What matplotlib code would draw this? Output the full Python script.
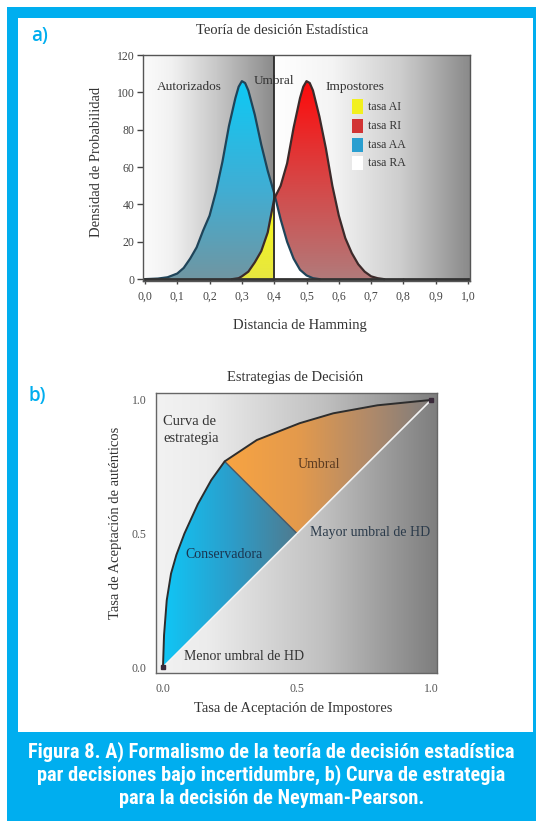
import numpy as np
import matplotlib
matplotlib.use('Agg')
import matplotlib.pyplot as plt
from matplotlib.patches import Rectangle, Polygon
from matplotlib.colors import LinearSegmentedColormap
from matplotlib import font_manager

# ---------------- data: panel a ----------------
auth_x = [0.00, 0.04, 0.07, 0.10, 0.12, 0.14, 0.16, 0.18, 0.20, 0.22, 0.24, 0.26, 0.28, 0.29,
          0.30, 0.31, 0.32, 0.34, 0.36, 0.38, 0.40, 0.42, 0.44, 0.46, 0.48, 0.50, 0.52, 0.54]
auth_y = [0, 0.3, 1, 3, 6, 11, 17, 26, 34, 47, 63, 82, 97, 103,
          106, 105, 101, 88, 72, 58, 46, 32, 20, 11, 5, 2, 0.5, 0]
imp_x = [0.27, 0.29, 0.30, 0.32, 0.34, 0.36, 0.38, 0.40, 0.42, 0.44, 0.46, 0.48, 0.49, 0.50,
         0.51, 0.52, 0.54, 0.56, 0.58, 0.60, 0.62, 0.64, 0.66, 0.68, 0.70, 0.72, 0.74]
imp_y = [0, 0.5, 1.5, 4, 9, 15, 25, 43, 50, 62, 81, 97, 103, 106,
         105, 101, 87, 70, 50, 34, 22, 14, 8, 4, 1.5, 0.5, 0]
threshold = 0.4
a_xticks = [0.0, 0.1, 0.2, 0.3, 0.4, 0.5, 0.6, 0.7, 0.8, 0.9, 1.0]
a_xticklabels = ["0,0", "0,1", "0,2", "0,3", "0,4", "0,5", "0,6", "0,7", "0,8", "0,9", "1,0"]
a_yticks = [0, 20, 40, 60, 80, 100, 120]
legend_labels = ["tasa AI", "tasa RI", "tasa AA", "tasa RA"]
legend_colors = ["#f2f01e", "#d23434", "#2a9fd0", "#ffffff"]

# ---------------- data: panel b ----------------
roc_fpr = [0.0, 0.004, 0.014, 0.03, 0.05, 0.08, 0.13, 0.18, 0.23, 0.35, 0.51, 0.635, 0.80, 1.0]
roc_tpr = [0.0, 0.12, 0.25, 0.35, 0.42, 0.50, 0.61, 0.70, 0.77, 0.85, 0.913, 0.95, 0.98, 1.0]
split_curve = (0.23, 0.77)
split_diag = (0.5, 0.5)
b_ticks = [0.0, 0.5, 1.0]
b_ticklabels = ["0.0", "0.5", "1.0"]

caption_lines = ["Figura 8. A) Formalismo de la teoría de decisión estadística",
                 "par decisiones bajo incertidumbre, b) Curva de estrategia",
                 "para la decisión de Neyman-Pearson."]

W, H = 536, 821
FRAME = '#00aeef'
SERIF = ['Liberation Serif', 'DejaVu Serif']

# pick a condensed bold sans for the caption if one is installed
_fonts = font_manager.fontManager.ttflist
cap_family = None
cap_stretch = 'normal'
for cand in ['Liberation Sans Narrow', 'Arial Narrow', 'Roboto Condensed', 'Open Sans Condensed',
             'Noto Sans Condensed', 'Noto Sans Display Condensed']:
    if any(f.name == cand for f in _fonts):
        cap_family = cand
        break
if cap_family is None:
    for fam in ['DejaVu Sans', 'Noto Sans', 'Open Sans', 'Roboto']:
        if any(f.name == fam and str(f.stretch) in ('condensed', 'semi-condensed', '87.5', '75')
               for f in _fonts):
            cap_family = fam
            cap_stretch = 'condensed'
            break
if cap_family is None:
    for f in _fonts:
        if ('Condensed' in f.name or 'Narrow' in f.name):
            cap_family = f.name
            break
if cap_family is None:
    cap_family = 'Liberation Sans'

fig = plt.figure(figsize=(W / 100, H / 100), dpi=100)
fig.patch.set_facecolor('white')


def fx(px):
    return px / W


def fy(py):
    return 1 - py / H


# frame
fig.add_artist(Rectangle((fx(7), 0), fx(W - 7), 1 - 7 / H, transform=fig.transFigure,
                         facecolor=FRAME, edgecolor='none', zorder=0))
fig.add_artist(Rectangle((fx(18), fy(732)), fx(515), 714 / H, transform=fig.transFigure,
                         facecolor='white', edgecolor='none', zorder=0))


def cmap_from(stops):
    return LinearSegmentedColormap.from_list('c', stops)


def grad_image(ax, extent, stops, direction, zorder, clip=None):
    if direction == 'h':
        arr = np.linspace(0, 1, 256).reshape(1, -1)
    else:
        arr = np.linspace(0, 1, 256).reshape(-1, 1)
    im = ax.imshow(arr, cmap=cmap_from(stops), extent=extent, origin='lower',
                   aspect='auto', zorder=zorder, interpolation='bilinear')
    if clip is not None:
        im.set_clip_path(clip)
    return im


def poly(ax, verts):
    p = Polygon(verts, closed=True, facecolor='none', edgecolor='none')
    ax.add_patch(p)
    return p


# ================= panel a =================
axa = fig.add_axes([fx(143), fy(281), fx(327), 226 / H])
xa0, xa1, ya0, ya1 = -0.006, 1.006, -1.0, 120.0

grad_image(axa, [xa0, threshold, ya0, ya1],
           [(0, '#fbfbfb'), (0.22, '#f1f1f1'), (0.55, '#c9c9c9'), (1, '#8a8a8a')], 'h', 0)
grad_image(axa, [threshold, xa1, ya0, ya1],
           [(0, '#ffffff'), (0.3, '#f4f4f4'), (0.65, '#cdcdcd'), (1, '#8a8a8a')], 'h', 0)

ax_arr = np.array(auth_x)
ay_arr = np.array(auth_y)
ix_arr = np.array(imp_x)
iy_arr = np.array(imp_y)

ml = ax_arr <= threshold
mr = ax_arr >= threshold
il = ix_arr <= threshold
ir = ix_arr >= threshold

# blue (AA)
p = poly(axa, list(zip(ax_arr[ml], ay_arr[ml])) + [(threshold, 0), (ax_arr[ml][0], 0)])
grad_image(axa, [0, threshold, 0, 108],
           [(0, '#7096a2'), (0.45, '#40aed4'), (1, '#0ccaf6')], 'v', 2, p)
# red (RI)
p = poly(axa, list(zip(ix_arr[ir], iy_arr[ir])) + [(ix_arr[ir][-1], 0), (threshold, 0)])
grad_image(axa, [threshold, 0.75, 0, 108],
           [(0, '#b27a7a'), (0.5, '#d84444'), (1, '#ff0808')], 'v', 3, p)
# yellow (AI)
p = poly(axa, list(zip(ix_arr[il], iy_arr[il])) + [(threshold, 0), (ix_arr[il][0], 0)])
grad_image(axa, [0.25, threshold, 0, 50],
           [(0, '#e6e640'), (1, '#ffff10')], 'v', 4, p)
# white (RA)
axa.fill_between(ax_arr[mr], ay_arr[mr], 0, color='white', zorder=5, lw=0)

axa.plot(auth_x, auth_y, color='#1f4459', lw=1.6, zorder=6, solid_joinstyle='round')
axa.plot(imp_x, imp_y, color='#3c2a2a', lw=1.6, zorder=6, solid_joinstyle='round')
axa.axvline(threshold, color='#2a2a2a', lw=1.3, zorder=7)
axa.axhline(0, color='#333333', lw=2.0, zorder=7)

# legend (manual)
leg_y = [92.4, 82.0, 71.9, 62.1]
for lab, col, yy in zip(legend_labels, legend_colors, leg_y):
    axa.add_patch(Rectangle((0.64, yy - 3.8), 0.034, 7.6, facecolor=col,
                            edgecolor='none', zorder=8))
    axa.text(0.69, yy, lab, fontsize=8.5, family=SERIF, va='center', ha='left',
             color='#333333', zorder=8)

axa.text(0.136, 103, "Autorizados", fontsize=9.5, family=SERIF, ha='center', va='center',
         color='#333333', zorder=8)
axa.text(0.40, 106, "Umbral", fontsize=9.5, family=SERIF, ha='center', va='center',
         color='#333333', zorder=8)
axa.text(0.65, 103, "Impostores", fontsize=9.5, family=SERIF, ha='center', va='center',
         color='#333333', zorder=8)

axa.set_xlim(xa0, xa1)
axa.set_ylim(ya0, ya1)
axa.set_xticks(a_xticks)
axa.set_xticklabels(a_xticklabels, family=SERIF, fontsize=8.5, color='#444444')
axa.set_yticks(a_yticks)
axa.set_yticklabels([str(v) for v in a_yticks], family=SERIF, fontsize=8.5, color='#444444')
axa.tick_params(axis='y', direction='out', length=4, width=1, color='#444444', pad=2)
axa.tick_params(axis='x', direction='inout', length=4, width=1, color='#444444', pad=5)
for s in axa.spines.values():
    s.set_color('#555555')
    s.set_linewidth(1.0)
    s.set_zorder(9)

fig.text(fx(282), fy(30), "Teoría de desición Estadística", family=SERIF, fontsize=10.5,
         ha='center', va='center', color='#333333')
fig.text(fx(300), fy(325), "Distancia de Hamming", family=SERIF, fontsize=10.5,
         ha='center', va='center', color='#333333')
fig.text(fx(97), fy(162), "Densidad de Probabilidad", family=SERIF, fontsize=10.5,
         ha='center', va='center', rotation=90, color='#333333')

# ================= panel b =================
axb = fig.add_axes([fx(156), fy(673), fx(281), 280 / H])
xb0, xb1, yb0, yb1 = -0.026, 1.022, -0.022, 1.026

grad_image(axb, [xb0, xb1, yb0, yb1],
           [(0, '#f2f2f2'), (0.18, '#ececec'), (0.6, '#c0c0c0'), (1, '#7e7e7e')], 'h', 0)

fpr = np.array(roc_fpr)
tpr = np.array(roc_tpr)
k = int(np.argmin(np.abs(fpr - split_curve[0])))

blue_verts = list(zip(fpr[:k + 1], tpr[:k + 1])) + [split_diag, (0.0, 0.0)]
p = poly(axb, blue_verts)
grad_image(axb, [0, split_diag[0], 0, 1],
           [(0, '#10c6f6'), (0.5, '#2b9ecb'), (1, '#507a8e')], 'h', 2, p)

orange_verts = list(zip(fpr[k:], tpr[k:])) + [split_diag]
p = poly(axb, orange_verts)
grad_image(axb, [split_curve[0], 1.0, 0, 1],
           [(0, '#f8a442'), (0.35, '#e49a4c'), (0.7, '#b08a6a'), (1, '#7e7c7c')], 'h', 2, p)

axb.plot([split_curve[0], split_diag[0]], [split_curve[1], split_diag[1]],
         color='#44586a', lw=1.0, zorder=3)
axb.plot([0, 1], [0, 1], color='#f4f4f4', lw=1.2, zorder=3)
axb.plot(roc_fpr, roc_tpr, color='#2d2d2d', lw=1.4, zorder=4, solid_joinstyle='round')
axb.plot([0, 1], [0, 1], ls='none', marker='s', ms=3.5, color='#3a2a3a', zorder=5)

axb.text(0.0, 0.92, "Curva de", family=SERIF, fontsize=10.5, ha='left', va='center',
         color='#333333', zorder=6)
axb.text(0.0, 0.855, "estrategia", family=SERIF, fontsize=10.5, ha='left', va='center',
         color='#333333', zorder=6)
axb.text(0.58, 0.757, "Umbral", family=SERIF, fontsize=10, ha='center', va='center',
         color='#5a3a20', zorder=6)
axb.text(0.55, 0.505, "Mayor umbral de HD", family=SERIF, fontsize=10, ha='left', va='center',
         color='#2a3a4a', zorder=6)
axb.text(0.226, 0.42, "Conservadora", family=SERIF, fontsize=10, ha='center', va='center',
         color='#1a3550', zorder=6)
axb.text(0.08, 0.04, "Menor umbral de HD", family=SERIF, fontsize=10, ha='left', va='center',
         color='#333333', zorder=6)

axb.set_xlim(xb0, xb1)
axb.set_ylim(yb0, yb1)
axb.set_xticks(b_ticks)
axb.set_xticklabels(b_ticklabels, family=SERIF, fontsize=8.5, color='#555555')
axb.set_yticks(b_ticks)
axb.set_yticklabels(b_ticklabels, family=SERIF, fontsize=8.5, color='#555555')
axb.tick_params(length=0, pad=7)
for s in axb.spines.values():
    s.set_color('#666666')
    s.set_linewidth(1.0)
    s.set_zorder(9)

fig.text(fx(295), fy(377), "Estrategias de Decisión", family=SERIF, fontsize=10.5,
         ha='center', va='center', color='#333333')
fig.text(fx(293), fy(708), "Tasa de Aceptación de Impostores", family=SERIF, fontsize=10.5,
         ha='center', va='center', color='#333333')
fig.text(fx(115), fy(523), "Tasa de Aceptación de auténticos", family=SERIF, fontsize=10.5,
         ha='center', va='center', rotation=90, color='#333333')

# panel letters
fig.text(fx(31), fy(36), "a)", fontsize=13.5, color=FRAME, family=['Open Sans', 'DejaVu Sans'],
         fontweight='semibold', ha='left', va='center')
fig.text(fx(28), fy(396), "b)", fontsize=13.5, color=FRAME, family=['Open Sans', 'DejaVu Sans'],
         fontweight='semibold', ha='left', va='center')

# caption (condensed bold white, fitted to the reference line width)
cap_texts = []
for txt, yy in zip(caption_lines, [752, 775, 798]):
    t = fig.text(fx(271.5), fy(yy), txt, fontsize=13.2, color='white',
                 family=[cap_family, 'Liberation Sans', 'DejaVu Sans'],
                 fontstretch=cap_stretch, fontweight='bold', ha='center', va='center')
    cap_texts.append(t)
fig.canvas.draw()
rend = fig.canvas.get_renderer()
w0 = cap_texts[0].get_window_extent(rend).width
target = 487.0
new_size = 13.2 * target / w0
for t in cap_texts:
    t.set_fontsize(new_size)

fig.savefig('out.png', dpi=100, facecolor='white')
